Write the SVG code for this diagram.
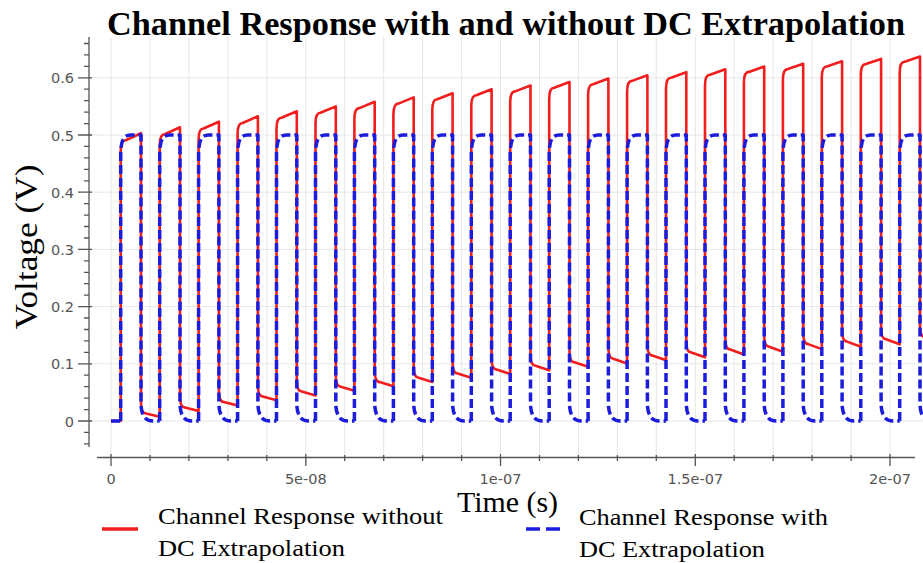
<svg xmlns="http://www.w3.org/2000/svg" width="923" height="563" viewBox="0 0 923 563">
<style>
.grid{stroke:#e6e6e6;stroke-width:1;fill:none}
.axis{stroke:#555;stroke-width:1.3;fill:none}
.tick{font-family:"DejaVu Sans",Verdana,sans-serif;font-size:14.5px;fill:#555}
.serif{font-family:"Liberation Serif","Times New Roman",serif;fill:#000}
.red{stroke:#f21d1d;stroke-width:2.6;fill:none;stroke-linejoin:round}
.blue{stroke:#1c1cdc;stroke-width:3.5;fill:none;stroke-dasharray:9 4;stroke-linejoin:round}
</style>
<defs>
<path id="bluePulse" class="blue" d="M0,421 L0,155 C0,140 3,135 10,135 L20.3,135 L20.3,403 C20.3,415 24.3,421 32.3,421 L38.95,421"/>
</defs>
<rect width="923" height="563" fill="#fff"/>
<g id="grid">
<path class="grid" d="M89,421H923M89,363.8H923M89,306.6H923M89,249.4H923M89,192.2H923M89,135H923M89,77.8H923"/>
<path class="grid" d="M111,37V457M150,37V457M188.9,37V457M227.9,37V457M266.8,37V457M305.8,37V457M344.7,37V457M383.7,37V457M422.6,37V457M461.6,37V457M500.5,37V457M539.5,37V457M578.4,37V457M617.4,37V457M656.3,37V457M695.3,37V457M734.2,37V457M773.2,37V457M812.1,37V457M851.1,37V457M890,37V457"/>
</g>
<g id="y-axis">
<path class="axis" d="M89,37V447"/>
<path class="axis" d="M84,443.9h5M84,432.4h5M84,409.6h5M84,398.1h5M84,386.7h5M84,375.2h5M84,352.4h5M84,340.9h5M84,329.5h5M84,318h5M84,295.2h5M84,283.7h5M84,272.3h5M84,260.8h5M84,238h5M84,226.5h5M84,215.1h5M84,203.6h5M84,180.8h5M84,169.3h5M84,157.9h5M84,146.4h5M84,123.6h5M84,112.1h5M84,100.7h5M84,89.2h5M84,66.4h5M84,54.9h5M84,43.5h5"/>
<path class="axis" d="M78,421h14M78,363.8h14M78,306.6h14M78,249.4h14M78,192.2h14M78,135h14M78,77.8h14"/>
<g class="tick" text-anchor="end">
<text x="74" y="426.5">0</text>
<text x="74" y="369.3">0.1</text>
<text x="74" y="312.1">0.2</text>
<text x="74" y="254.9">0.3</text>
<text x="74" y="197.7">0.4</text>
<text x="74" y="140.5">0.5</text>
<text x="74" y="83.3">0.6</text>
</g>
</g>
<g id="x-axis">
<path class="axis" d="M97,457.5H915"/>
<path class="axis" d="M150,455v6M188.9,455v6M227.9,455v6M266.8,455v6M344.7,455v6M383.7,455v6M422.6,455v6M461.6,455v6M539.5,455v6M578.4,455v6M617.4,455v6M656.3,455v6M734.2,455v6M773.2,455v6M812.1,455v6M851.1,455v6"/>
<path class="axis" d="M111,454v12M305.8,454v12M500.5,454v12M695.3,454v12M890,454v12"/>
<g class="tick" text-anchor="middle">
<text x="111" y="484">0</text>
<text x="305.8" y="484">5e-08</text>
<text x="500.5" y="484">1e-07</text>
<text x="695.3" y="484">1.5e-07</text>
<text x="890" y="484">2e-07</text>
</g>
</g>
<g id="series-without-dc">
<path class="red" d="M111,421 L120.7,421
L120.7,151.3 Q120.7,140.3 125.7,140.3 L141,133.2 L141,402.5 Q141,413.5 146,413.5 L159.7,416.8
L159.7,145.2 Q159.7,134.2 164.7,134.2 L180,127.3 L180,396.6 Q180,407.6 185,407.6 L198.6,411
L198.6,139.5 Q198.6,128.5 203.6,128.5 L218.9,121.7 L218.9,391 Q218.9,402 223.9,402 L237.6,405.6
L237.6,134 Q237.6,123 242.6,123 L257.9,116.3 L257.9,385.6 Q257.9,396.6 262.9,396.6 L276.5,400.3
L276.5,128.8 Q276.5,117.8 281.5,117.8 L296.8,111.3 L296.8,380.5 Q296.8,391.5 301.8,391.5 L315.5,395.4
L315.5,123.8 Q315.5,112.8 320.5,112.8 L335.8,106.4 L335.8,375.7 Q335.8,386.7 340.8,386.7 L354.4,390.7
L354.4,119.1 Q354.4,108.1 359.4,108.1 L374.7,101.8 L374.7,371.1 Q374.7,382.1 379.7,382.1 L393.4,386.2
L393.4,114.6 Q393.4,103.6 398.4,103.6 L413.7,97.4 L413.7,366.7 Q413.7,377.7 418.7,377.7 L432.3,381.9
L432.3,110.3 Q432.3,99.3 437.3,99.3 L452.6,93.3 L452.6,362.5 Q452.6,373.5 457.6,373.5 L471.3,377.8
L471.3,106.3 Q471.3,95.3 476.3,95.3 L491.6,89.3 L491.6,358.6 Q491.6,369.6 496.6,369.6 L510.2,374
L510.2,102.4 Q510.2,91.4 515.2,91.4 L530.5,85.5 L530.5,354.8 Q530.5,365.8 535.5,365.8 L549.2,370.3
L549.2,98.7 Q549.2,87.7 554.2,87.7 L569.5,82 L569.5,351.2 Q569.5,362.2 574.5,362.2 L588.1,366.8
L588.1,95.2 Q588.1,84.2 593.1,84.2 L608.4,78.5 L608.4,347.8 Q608.4,358.8 613.4,358.8 L627.1,363.5
L627.1,91.9 Q627.1,80.9 632.1,80.9 L647.4,75.3 L647.4,344.6 Q647.4,355.6 652.4,355.6 L666,360.3
L666,88.7 Q666,77.7 671,77.7 L686.3,72.2 L686.3,341.5 Q686.3,352.5 691.3,352.5 L705,357.3
L705,85.7 Q705,74.7 710,74.7 L725.3,69.3 L725.3,338.6 Q725.3,349.6 730.3,349.6 L743.9,354.4
L743.9,82.9 Q743.9,71.9 748.9,71.9 L764.2,66.5 L764.2,335.8 Q764.2,346.8 769.2,346.8 L782.9,351.7
L782.9,80.1 Q782.9,69.1 787.9,69.1 L803.2,63.8 L803.2,333.1 Q803.2,344.1 808.2,344.1 L821.8,349.1
L821.8,77.5 Q821.8,66.5 826.8,66.5 L842.1,61.3 L842.1,330.6 Q842.1,341.6 847.1,341.6 L860.8,346.7
L860.8,75.1 Q860.8,64.1 865.8,64.1 L881.1,58.9 L881.1,328.2 Q881.1,339.2 886.1,339.2 L899.7,344.3
L899.7,72.7 Q899.7,61.7 904.7,61.7 L920,56.6 L920,325.9 Q920,336.9 925,336.9 L938.6,342.1"/>
</g>
<g id="series-with-dc">
<path class="blue" d="M111,421 L120.7,421"/>
<use href="#bluePulse" x="120.7"/>
<use href="#bluePulse" x="159.7"/>
<use href="#bluePulse" x="198.6"/>
<use href="#bluePulse" x="237.6"/>
<use href="#bluePulse" x="276.5"/>
<use href="#bluePulse" x="315.5"/>
<use href="#bluePulse" x="354.4"/>
<use href="#bluePulse" x="393.4"/>
<use href="#bluePulse" x="432.3"/>
<use href="#bluePulse" x="471.3"/>
<use href="#bluePulse" x="510.2"/>
<use href="#bluePulse" x="549.2"/>
<use href="#bluePulse" x="588.1"/>
<use href="#bluePulse" x="627.1"/>
<use href="#bluePulse" x="666"/>
<use href="#bluePulse" x="705"/>
<use href="#bluePulse" x="743.9"/>
<use href="#bluePulse" x="782.9"/>
<use href="#bluePulse" x="821.8"/>
<use href="#bluePulse" x="860.8"/>
<use href="#bluePulse" x="899.7"/>
</g>
<g id="title">
<text class="serif" x="107" y="35" font-size="34" font-weight="bold" textLength="798" lengthAdjust="spacingAndGlyphs">Channel Response with and without DC Extrapolation</text>
</g>
<g id="y-label">
<text class="serif" transform="translate(37,247) rotate(-90)" text-anchor="middle" font-size="31" textLength="165" lengthAdjust="spacingAndGlyphs">Voltage (V)</text>
</g>
<g id="x-label">
<text class="serif" x="457" y="512" font-size="29" textLength="101" lengthAdjust="spacingAndGlyphs">Time (s)</text>
</g>
<g id="legend">
<path d="M102,529H138" stroke="#f21d1d" stroke-width="3.5"/>
<text class="serif" x="158" y="524" font-size="24" textLength="285" lengthAdjust="spacingAndGlyphs">Channel Response without</text>
<text class="serif" x="158" y="556" font-size="24" textLength="187" lengthAdjust="spacingAndGlyphs">DC Extrapolation</text>
<path d="M526,529H560" stroke="#1c1cdc" stroke-width="3.5" stroke-dasharray="14 6"/>
<text class="serif" x="579" y="525" font-size="24" textLength="249" lengthAdjust="spacingAndGlyphs">Channel Response with</text>
<text class="serif" x="579" y="557" font-size="24" textLength="186" lengthAdjust="spacingAndGlyphs">DC Extrapolation</text>
</g>
</svg>
